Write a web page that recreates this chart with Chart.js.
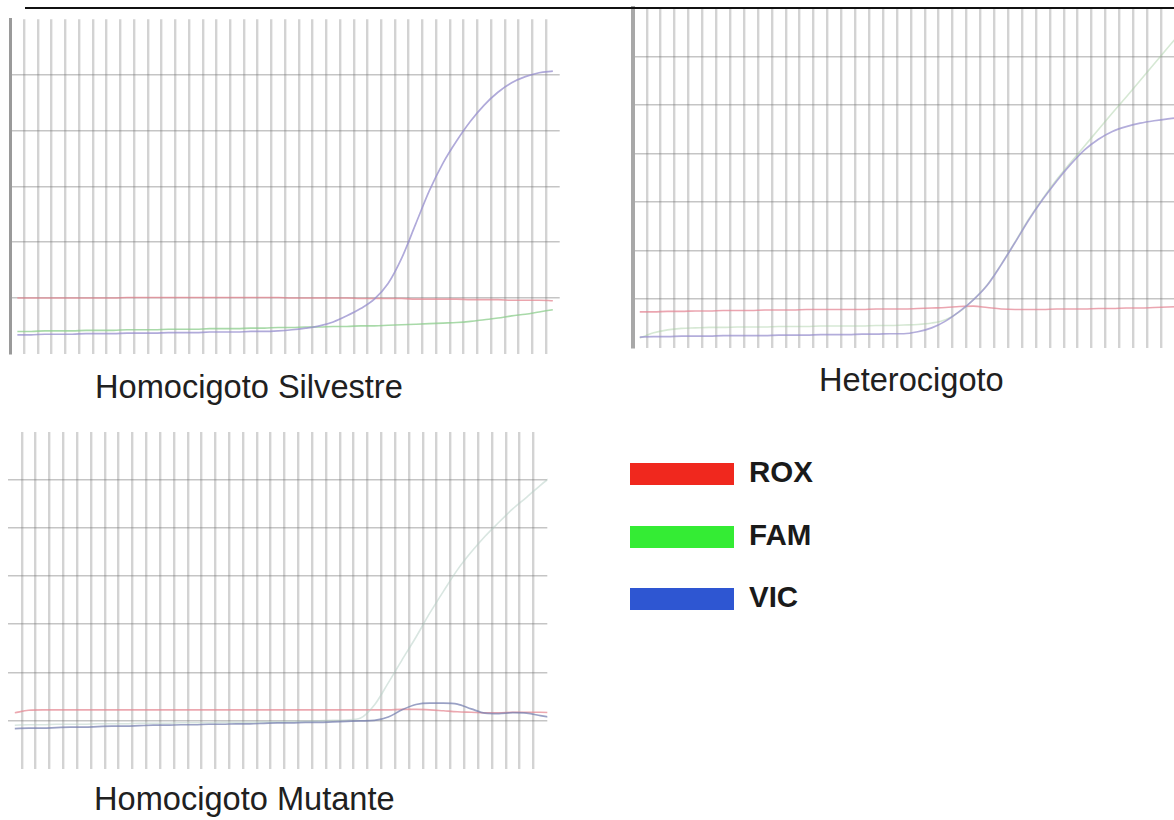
<!DOCTYPE html>
<html>
<head>
<meta charset="utf-8">
<script src="https://cdn.jsdelivr.net/npm/chart.js@4.4.1/dist/chart.umd.min.js"></script>
<style>
  html, body { margin: 0; padding: 0; background: #fff; overflow: hidden; width: 1174px; height: 820px; }
  #page { position: relative; width: 1174px; height: 820px; overflow: hidden;
          font-family: "Liberation Sans", Arial, Helvetica, sans-serif; color: #1b1b1b; }
  canvas { position: absolute; }
  .title { position: absolute; font-size: 32.6px; line-height: 32px; white-space: nowrap; color: #202020; }
  .rule { position: absolute; left: 25px; top: 7px; width: 1149px; height: 2px; background: #111; z-index: 5; }
  .key { position: absolute; left: 630px; width: 104px; height: 22px; }
  .keylabel { position: absolute; left: 749px; font-weight: bold; font-size: 29.5px; line-height: 29px; white-space: nowrap; color: #1a1a1a; }
</style>
</head>
<body>
<div id="page">
  <div class="rule"></div>
  <canvas id="silvestre" width="570" height="350" style="left:0px;top:10px"></canvas>
  <canvas id="hetero" width="580" height="355" style="left:620px;top:0px"></canvas>
  <canvas id="mutante" width="560" height="350" style="left:0px;top:425px"></canvas>
  <div class="title" style="left:95px;top:371px">Homocigoto Silvestre</div>
  <div class="title" style="left:819px;top:364px">Heterocigoto</div>
  <div class="title" style="left:94px;top:783px">Homocigoto Mutante</div>
  <div id="legend"></div>
</div>
<script>
// PCR cycle numbers (one reading per cycle)
const cycles = [1,2,3,4,5,6,7,8,9,10,11,12,13,14,15,16,17,18,19,20,
                21,22,23,24,25,26,27,28,29,30,31,32,33,34,35,36,37,38,39,40];

// Grid positions: cycle boundaries and fluorescence levels
const cycleGrid = [0,1,2,3,4,5,6,7,8,9,10,11,12,13,14,15,16,17,18,19,20,
                   21,22,23,24,25,26,27,28,29,30,31,32,33,34,35,36,37,38,39,40];
const levelGrid = [0,1,2,3,4,5,6,7];

// Dye names
const dyes = ['ROX', 'FAM', 'VIC'];

// Homocigoto Silvestre
const silvestreROX = [1.00,1.00,1.00,1.00,1.00,1.00,1.00,1.00,1.01,1.01,
                      1.01,1.01,1.01,1.01,1.01,1.01,1.01,1.01,1.01,1.01,
                      1.00,1.00,1.00,1.00,1.00,0.99,0.99,0.99,0.99,0.98,
                      0.98,0.98,0.98,0.97,0.97,0.97,0.96,0.96,0.96,0.95];
const silvestreFAM = [0.40,0.40,0.41,0.41,0.41,0.42,0.42,0.42,0.43,0.43,
                      0.43,0.44,0.44,0.44,0.45,0.45,0.45,0.46,0.46,0.47,
                      0.47,0.48,0.48,0.49,0.49,0.50,0.50,0.51,0.52,0.53,
                      0.54,0.55,0.56,0.58,0.61,0.64,0.68,0.71,0.75,0.79];
const silvestreVIC = [0.34,0.34,0.35,0.35,0.35,0.36,0.36,0.36,0.37,0.37,
                      0.37,0.38,0.38,0.38,0.39,0.39,0.39,0.40,0.40,0.41,
                      0.43,0.46,0.50,0.57,0.68,0.81,0.98,1.26,1.72,2.32,
                      2.92,3.42,3.82,4.17,4.46,4.69,4.86,4.97,5.04,5.07];

// Heterocigoto
const heteroROX = [0.74,0.74,0.75,0.75,0.76,0.76,0.77,0.77,0.77,0.78,
                   0.78,0.78,0.79,0.79,0.79,0.79,0.79,0.80,0.80,0.80,
                   0.81,0.82,0.83,0.85,0.86,0.83,0.80,0.79,0.79,0.79,
                   0.80,0.80,0.80,0.81,0.81,0.82,0.82,0.83,0.84,0.85];
const heteroFAM = [0.20,0.31,0.37,0.40,0.41,0.42,0.42,0.43,0.43,0.43,
                   0.44,0.44,0.44,0.45,0.45,0.45,0.45,0.46,0.46,0.47,
                   0.48,0.51,0.58,0.74,0.99,1.30,1.72,2.18,2.66,3.08,
                   3.47,3.82,4.16,4.50,4.84,5.17,5.51,5.85,6.19,6.52];
const heteroVIC = [0.22,0.23,0.23,0.24,0.24,0.24,0.25,0.25,0.25,0.25,
                   0.26,0.26,0.26,0.27,0.27,0.27,0.28,0.28,0.29,0.29,
                   0.33,0.41,0.55,0.75,0.99,1.29,1.71,2.17,2.64,3.06,
                   3.44,3.78,4.08,4.30,4.46,4.56,4.63,4.68,4.72,4.75];

// Homocigoto Mutante
const mutanteROX = [1.16,1.21,1.22,1.22,1.22,1.22,1.22,1.22,1.22,1.22,
                    1.22,1.22,1.22,1.22,1.22,1.22,1.22,1.22,1.22,1.22,
                    1.22,1.22,1.22,1.22,1.22,1.22,1.22,1.22,1.23,1.23,
                    1.22,1.20,1.18,1.17,1.16,1.16,1.17,1.17,1.17,1.16];
const mutanteFAM = [0.90,0.91,0.91,0.92,0.92,0.92,0.93,0.93,0.93,0.94,
                    0.94,0.94,0.95,0.95,0.95,0.96,0.96,0.96,0.97,0.97,
                    0.98,0.98,0.99,1.00,1.01,1.05,1.32,1.78,2.26,2.73,
                    3.23,3.69,4.13,4.50,4.83,5.12,5.40,5.64,5.89,6.12];
const mutanteVIC = [0.83,0.84,0.84,0.85,0.86,0.86,0.87,0.88,0.88,0.89,
                    0.90,0.90,0.91,0.91,0.92,0.92,0.93,0.93,0.94,0.95,
                    0.95,0.96,0.96,0.97,0.98,0.99,1.00,1.07,1.22,1.33,
                    1.36,1.36,1.34,1.24,1.15,1.14,1.16,1.15,1.10,1.05];

// Legend swatch colours
const dyeKeyColors = { ROX: '#f0281e', FAM: '#34ec34', VIC: '#2e56d2' };

const GRID_V = 'rgba(120,120,120,0.33)';
const GRID_H = 'rgba(110,110,110,0.40)';
const CLEAR = 'rgba(0,0,0,0)';

function amplificationChart(canvasId, series, cfg) {
  const toPoints = vals => vals.map((v, i) => ({ x: cycles[i] - 0.5, y: v }));
  return new Chart(document.getElementById(canvasId), {
    type: 'line',
    data: {
      datasets: series.map(s => ({
        label: s.name,
        data: toPoints(s.values),
        borderColor: s.color,
        borderWidth: s.width,
        pointRadius: 0,
        cubicInterpolationMode: 'monotone',
        fill: false
      }))
    },
    options: {
      responsive: false,
      animation: false,
      devicePixelRatio: 1,
      events: [],
      layout: { padding: cfg.padding },
      plugins: { legend: { display: false }, tooltip: { enabled: false }, title: { display: false } },
      scales: {
        x: {
          type: 'linear', min: 0, max: cfg.xMax,
          afterBuildTicks: s => { s.ticks = cycleGrid.filter(v => v <= cfg.xMax).map(v => ({ value: v })); },
          ticks: { display: false },
          grid: {
            color: c => (c.tick.value === 0 || c.tick.value === cfg.xMax) ? CLEAR : GRID_V,
            lineWidth: 2.4, drawTicks: false
          },
          border: { display: false }
        },
        y: {
          type: 'linear', min: 0, max: cfg.yMax,
          afterBuildTicks: s => { s.ticks = levelGrid.filter(v => v <= cfg.yMax).map(v => ({ value: v })); },
          ticks: { display: false },
          grid: {
            color: c => (c.tick.value === 0 || c.tick.value === cfg.yMax) ? CLEAR : GRID_H,
            lineWidth: 1.6, drawTicks: false
          },
          border: cfg.axis ? { display: true, color: cfg.axis.color, width: cfg.axis.width } : { display: false }
        }
      }
    }
  });
}

amplificationChart('silvestre', [
  { name: 'VIC', values: silvestreVIC, color: 'rgba(150,142,205,0.75)', width: 1.7 },
  { name: 'FAM', values: silvestreFAM, color: 'rgba(140,205,140,0.75)', width: 1.6 },
  { name: 'ROX', values: silvestreROX, color: 'rgba(228,135,145,0.75)', width: 1.6 }
], { xMax: 40, yMax: 6, padding: { left: 10.5, right: 10.3, top: 9.25, bottom: 6.25 },
     axis: { color: '#9a9a9a', width: 3 } });

amplificationChart('hetero', [
  { name: 'VIC', values: heteroVIC, color: 'rgba(150,142,205,0.72)', width: 1.7 },
  { name: 'FAM', values: heteroFAM, color: 'rgba(165,205,160,0.45)', width: 1.6 },
  { name: 'ROX', values: heteroROX, color: 'rgba(228,135,150,0.75)', width: 1.6 }
], { xMax: 40, yMax: 7, padding: { left: 12.8, right: 11.2, top: 8.2, bottom: 7.2 },
     axis: { color: '#a8a8a8', width: 4 } });

amplificationChart('mutante', [
  { name: 'VIC', values: mutanteVIC, color: 'rgba(115,125,175,0.72)', width: 1.7 },
  { name: 'FAM', values: mutanteFAM, color: 'rgba(180,205,195,0.5)', width: 1.6 },
  { name: 'ROX', values: mutanteROX, color: 'rgba(228,135,145,0.72)', width: 1.6 }
], { xMax: 39, yMax: 7, padding: { left: 7.9, right: 12.7, top: 6.9, bottom: 6.5 },
     axis: null });

// Dye key
const legend = document.getElementById('legend');
dyes.forEach((name, i) => {
  const top = 463 + i * 62.5;
  const sw = document.createElement('div');
  sw.className = 'key';
  sw.style.top = top + 'px';
  sw.style.background = dyeKeyColors[name];
  legend.appendChild(sw);
  const lb = document.createElement('div');
  lb.className = 'keylabel';
  lb.style.top = (top - 6) + 'px';
  lb.textContent = name;
  legend.appendChild(lb);
});
</script>
</body>
</html>
